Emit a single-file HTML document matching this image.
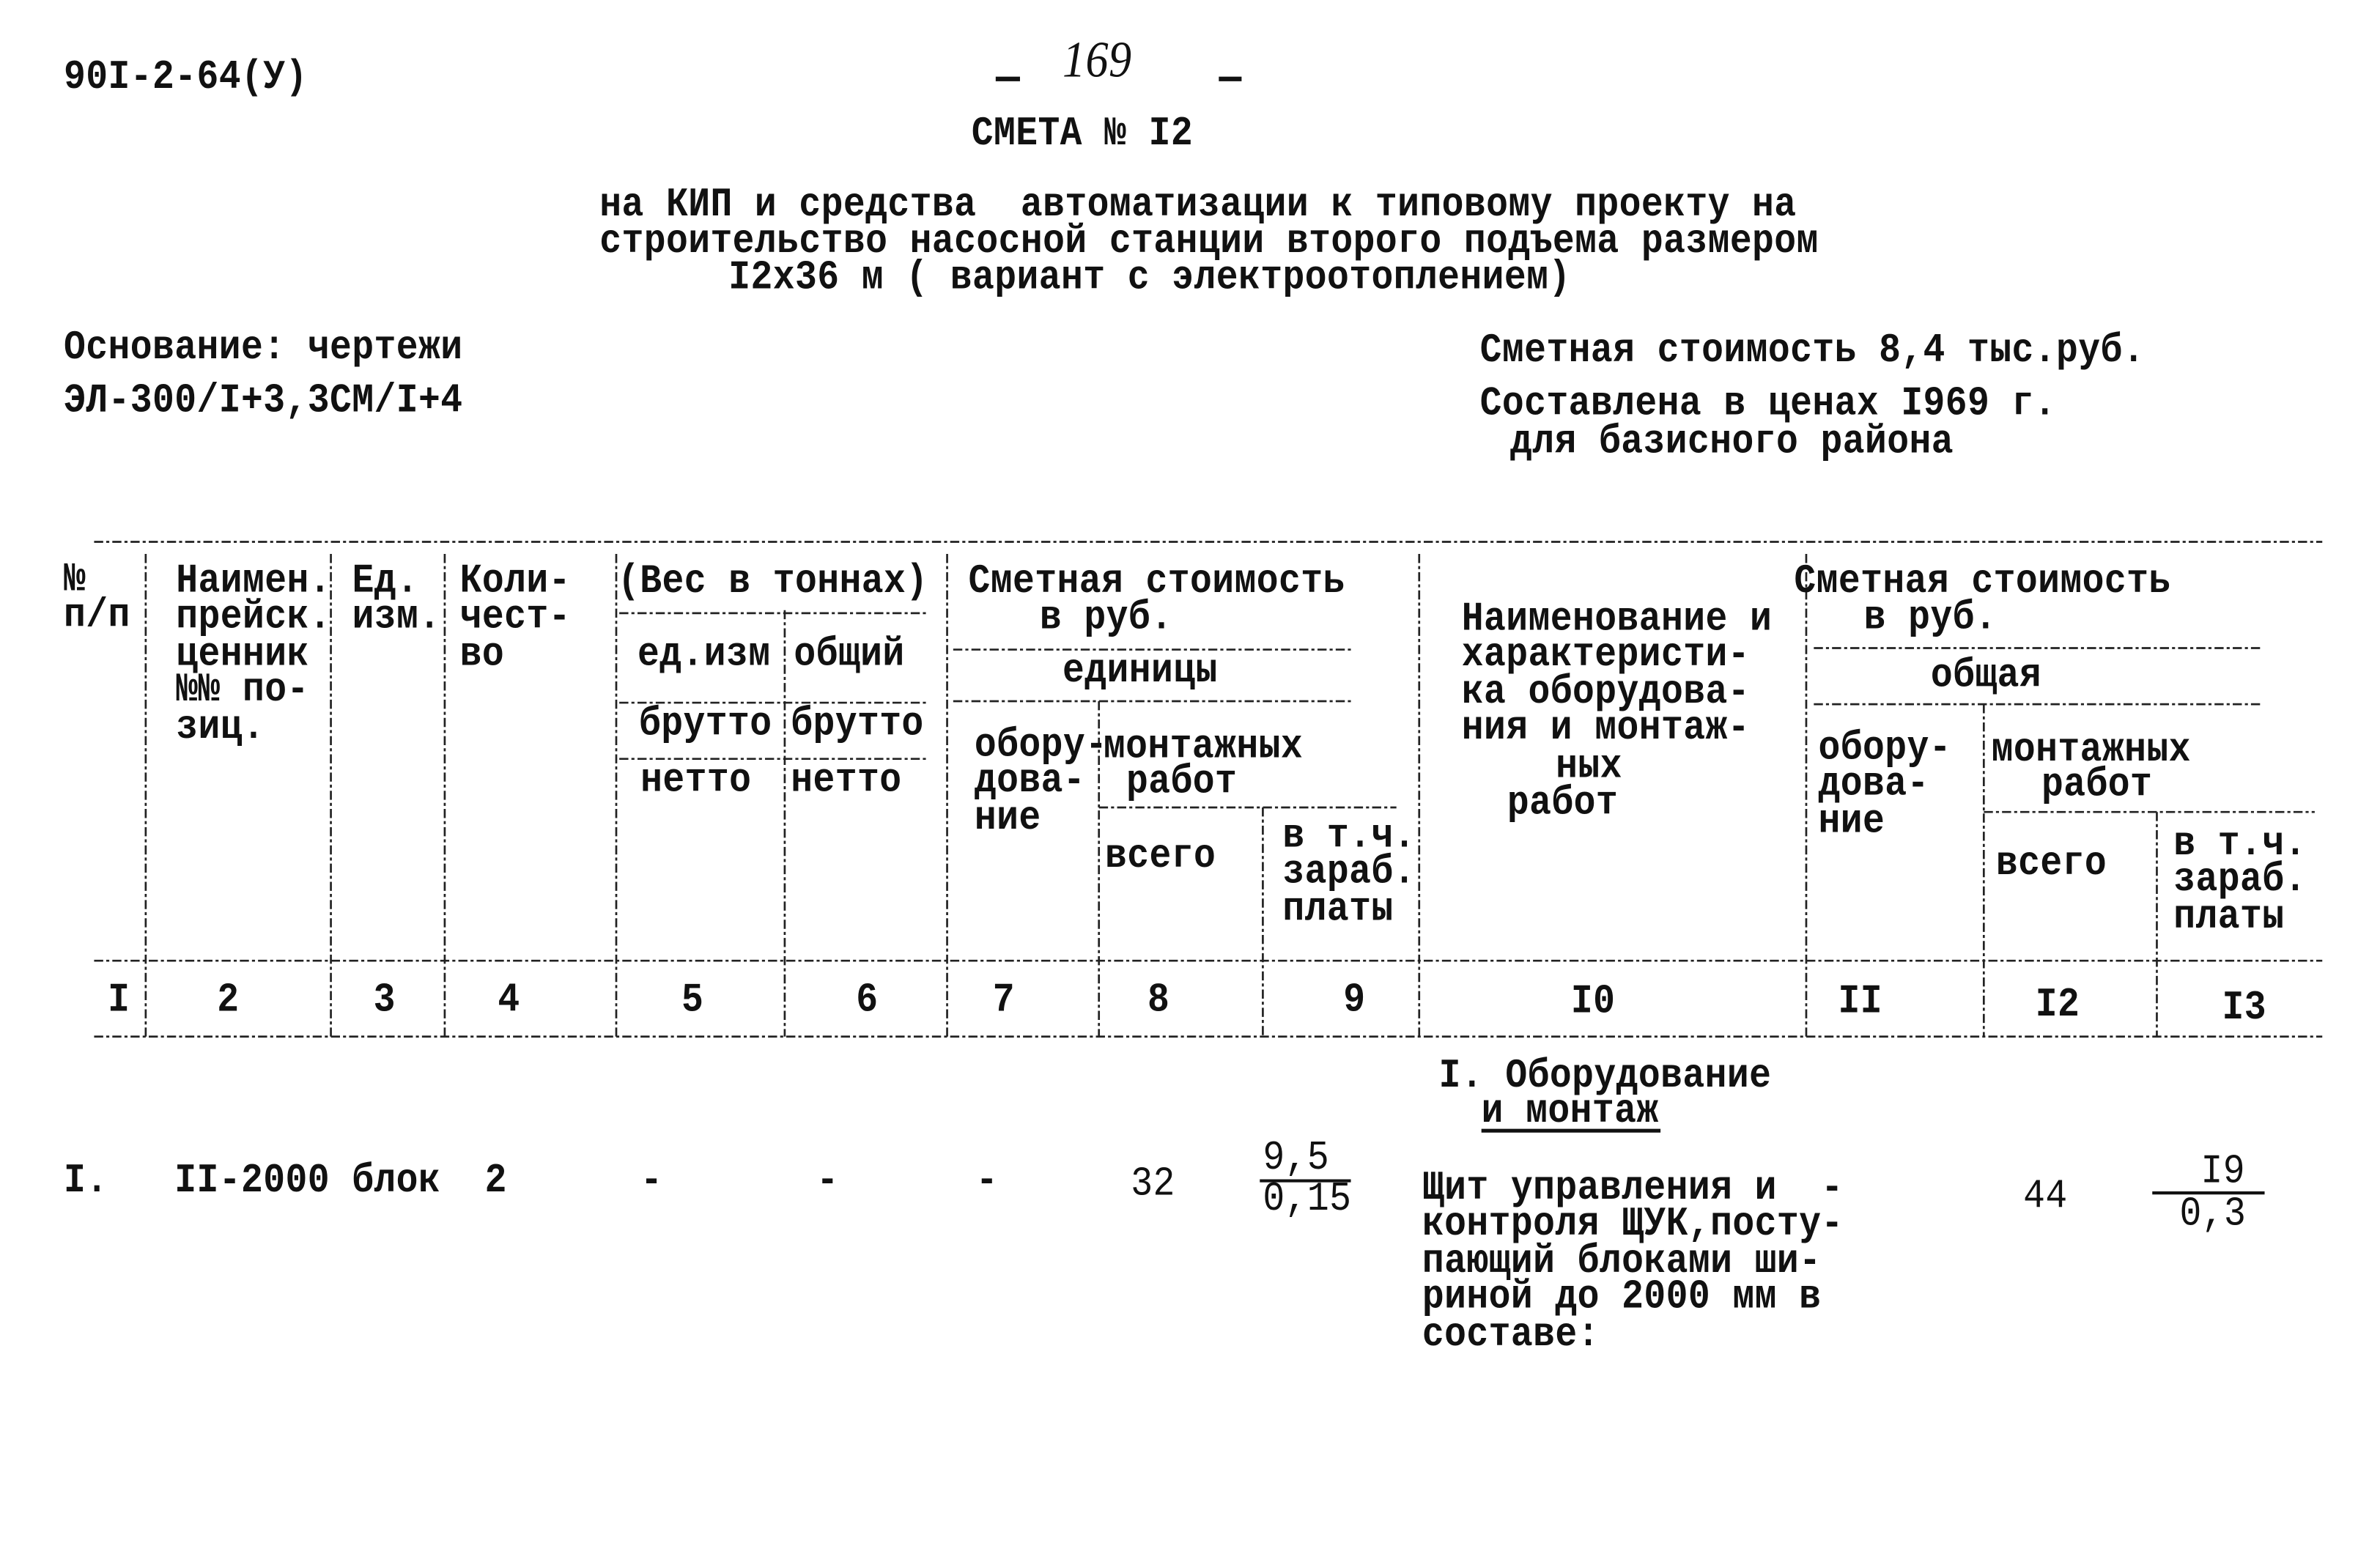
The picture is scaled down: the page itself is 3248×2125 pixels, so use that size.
<!DOCTYPE html>
<html><head><meta charset="utf-8"><style>
html,body{margin:0;padding:0;background:#fff;}
body{width:3248px;height:2125px;overflow:hidden;position:relative;}
#w{position:absolute;left:0;top:0;width:1568px;height:1026px;transform:scale(2.0714);transform-origin:0 0;}
.t{position:absolute;font-family:"Liberation Mono","DejaVu Sans Mono",monospace;font-size:24px;line-height:24px;font-weight:bold;color:#111;white-space:pre;letter-spacing:0.2px;transform:scaleY(1.12);transform-origin:0 0;}
svg{position:absolute;left:0;top:0;}
</style></head><body><div id="w">
<svg width="1568" height="1026" viewBox="0 0 1568 1026">
<g stroke="#222" stroke-width="1.3" fill="none" stroke-dasharray="6 2 2 2">
<line x1="62" y1="357" x2="1530" y2="357"/>
<line x1="62" y1="633" x2="1530" y2="633"/>
<line x1="62" y1="683" x2="1530" y2="683"/>
<line x1="96" y1="365" x2="96" y2="683"/>
<line x1="218" y1="365" x2="218" y2="683"/>
<line x1="293" y1="365" x2="293" y2="683"/>
<line x1="406" y1="365" x2="406" y2="683"/>
<line x1="624" y1="365" x2="624" y2="683"/>
<line x1="935" y1="365" x2="935" y2="683"/>
<line x1="1190" y1="365" x2="1190" y2="683"/>
<line x1="517" y1="402" x2="517" y2="683"/>
<line x1="724" y1="462" x2="724" y2="683"/>
<line x1="832" y1="532" x2="832" y2="683"/>
<line x1="1307" y1="464" x2="1307" y2="683"/>
<line x1="1421" y1="535" x2="1421" y2="683"/>
<line x1="408" y1="404" x2="612" y2="404"/>
<line x1="408" y1="463" x2="612" y2="463"/>
<line x1="408" y1="500" x2="612" y2="500"/>
<line x1="628" y1="428" x2="892" y2="428"/>
<line x1="628" y1="462" x2="890" y2="462"/>
<line x1="724" y1="532" x2="920" y2="532"/>
<line x1="1195" y1="427" x2="1490" y2="427"/>
<line x1="1195" y1="464" x2="1490" y2="464"/>
<line x1="1307" y1="535" x2="1525" y2="535"/>
</g>
<g stroke="#111" stroke-width="2">
<line x1="830" y1="778" x2="890" y2="778"/>
<line x1="1418" y1="786" x2="1492" y2="786"/>
<line x1="976" y1="745" x2="1094" y2="745" stroke-width="2.5"/>
<line x1="656" y1="52" x2="672" y2="52" stroke-width="3"/>
<line x1="803" y1="52" x2="818" y2="52" stroke-width="3"/>
</g>
</svg>
<div class="t" style="left:42px;top:39px">90I-2-64(У)</div>
<div class="t" style="left:700px;top:27px;font-style:italic;font-weight:normal;font-family:'Liberation Serif',serif;font-size:30px">169</div>
<div class="t" style="left:640px;top:76px">СМЕТА № I2</div>
<div class="t" style="left:395px;top:123px">на КИП и средства  автоматизации к типовому проекту на</div>
<div class="t" style="left:395px;top:147px">строительство насосной станции второго подъема размером</div>
<div class="t" style="left:480px;top:171px">I2х36 м ( вариант с электроотоплением)</div>
<div class="t" style="left:42px;top:217px">Основание: чертежи</div>
<div class="t" style="left:42px;top:252px">ЭЛ-300/I+3,3СМ/I+4</div>
<div class="t" style="left:975px;top:219px">Сметная стоимость 8,4 тыс.руб.</div>
<div class="t" style="left:975px;top:254px">Составлена в ценах I969 г.</div>
<div class="t" style="left:995px;top:279px">для базисного района</div>

<div class="t" style="left:42px;top:371px;line-height:21.4px">№<br>п/п</div>
<div class="t" style="left:116px;top:372px;line-height:21.4px">Наимен.<br>прейск.<br>ценник<br>№№ по-<br>зиц.</div>
<div class="t" style="left:232px;top:372px;line-height:21.4px">Ед.<br>изм.</div>
<div class="t" style="left:303px;top:372px;line-height:21.4px">Коли-<br>чест-<br>во</div>
<div class="t" style="left:407px;top:371px">(Вес в тоннах)</div>
<div class="t" style="left:420px;top:419px">ед.изм</div>
<div class="t" style="left:523px;top:419px">общий</div>
<div class="t" style="left:421px;top:465px">брутто</div>
<div class="t" style="left:521px;top:465px">брутто</div>
<div class="t" style="left:422px;top:502px">нетто</div>
<div class="t" style="left:521px;top:502px">нетто</div>
<div class="t" style="left:638px;top:371px">Сметная стоимость</div>
<div class="t" style="left:685px;top:395px">в руб.</div>
<div class="t" style="left:700px;top:430px">единицы</div>
<div class="t" style="left:642px;top:480px;line-height:21.4px">обору-<br>дова-<br>ние</div>
<div class="t" style="left:727px;top:480px">монтажных</div>
<div class="t" style="left:742px;top:503px">работ</div>
<div class="t" style="left:728px;top:552px">всего</div>
<div class="t" style="left:845px;top:540px;line-height:21.4px">в т.ч.<br>зараб.<br>платы</div>
<div class="t" style="left:963px;top:397px;line-height:21.4px">Наименование и<br>характеристи-<br>ка оборудова-<br>ния и монтаж-</div>
<div class="t" style="left:1025px;top:493px">ных</div>
<div class="t" style="left:993px;top:517px">работ</div>
<div class="t" style="left:1182px;top:371px">Сметная стоимость</div>
<div class="t" style="left:1228px;top:395px">в руб.</div>
<div class="t" style="left:1272px;top:433px">общая</div>
<div class="t" style="left:1198px;top:482px;line-height:21.4px">обору-<br>дова-<br>ние</div>
<div class="t" style="left:1312px;top:482px">монтажных</div>
<div class="t" style="left:1345px;top:505px">работ</div>
<div class="t" style="left:1315px;top:557px">всего</div>
<div class="t" style="left:1432px;top:545px;line-height:21.4px">в т.ч.<br>зараб.<br>платы</div>

<div class="t" style="left:71px;top:647px">I</div>
<div class="t" style="left:143px;top:647px">2</div>
<div class="t" style="left:246px;top:647px">3</div>
<div class="t" style="left:328px;top:647px">4</div>
<div class="t" style="left:449px;top:647px">5</div>
<div class="t" style="left:564px;top:647px">6</div>
<div class="t" style="left:654px;top:647px">7</div>
<div class="t" style="left:756px;top:647px">8</div>
<div class="t" style="left:885px;top:647px">9</div>
<div class="t" style="left:1035px;top:648px">I0</div>
<div class="t" style="left:1211px;top:648px">II</div>
<div class="t" style="left:1341px;top:650px">I2</div>
<div class="t" style="left:1464px;top:652px">I3</div>

<div class="t" style="left:948px;top:697px">I. Оборудование</div>
<div class="t" style="left:976px;top:720px">и монтаж</div>
<div class="t" style="left:42px;top:766px">I.</div>
<div class="t" style="left:115px;top:766px">II-2000 блок  2</div>
<div class="t" style="left:422px;top:766px">-</div>
<div class="t" style="left:538px;top:766px">-</div>
<div class="t" style="left:643px;top:766px">-</div>
<div class="t" style="left:745px;top:768px;font-weight:normal">32</div>
<div class="t" style="left:832px;top:751px;font-weight:normal">9,5</div>
<div class="t" style="left:832px;top:778px;font-weight:normal">0,15</div>
<div class="t" style="left:937px;top:772px;line-height:21.4px">Щит управления и  -<br>контроля ЩУК,посту-<br>пающий блоками ши-<br>риной до 2000 мм в<br>составе:</div>
<div class="t" style="left:1333px;top:776px;font-weight:normal">44</div>
<div class="t" style="left:1450px;top:760px;font-weight:normal">I9</div>
<div class="t" style="left:1436px;top:788px;font-weight:normal">0,3</div>
</div></body></html>
